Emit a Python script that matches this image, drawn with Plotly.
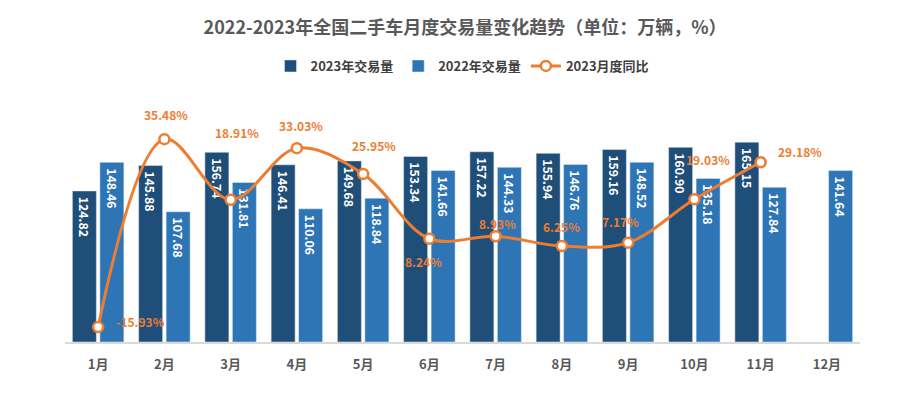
import plotly.graph_objects as go

months = ["1月", "2月", "3月", "4月", "5月", "6月", "7月", "8月", "9月", "10月", "11月", "12月"]
vol_2023 = [124.82, 145.88, 156.74, 146.41, 149.68, 153.34, 157.22, 155.94, 159.16, 160.90, 165.15, None]
vol_2022 = [148.46, 107.68, 131.81, 110.06, 118.84, 141.66, 144.33, 146.76, 148.52, 135.18, 127.84, 141.64]
yoy_2023 = [-15.93, 35.48, 18.91, 33.03, 25.95, 8.24, 8.93, 6.25, 7.17, 19.03, 29.18, None]

# label offsets (pixels) for the YoY labels
lbl_dx = [42, 2, 6, 4, 11, -6, 2, 0, -8, 14, 39]
lbl_dy = [6, 25, 67, 23, 29, -23, 13, 20, 21, 40, 11]

FONT = "Noto Sans CJK SC"
C23 = "#1F4E79"
C22 = "#2E75B6"
CORG = "#ED7D31"
GRAY = "#595959"

# page body has an 8px default margin; compensate
OFF = 8
W, H = 922 - OFF, 398 - OFF

fig = go.Figure()
fig.add_trace(go.Bar(
    x=months, y=vol_2023, name="<b>2023年交易量</b>", marker_color=C23,
    texttemplate="<b>\u00a0%{y:.2f}</b>", textposition="inside", textangle=90,
    insidetextanchor="end", textfont=dict(color="white", size=13, family=FONT),
))
fig.add_trace(go.Bar(
    x=months, y=vol_2022, name="<b>2022年交易量</b>", marker_color=C22,
    texttemplate="<b>\u00a0%{y:.2f}</b>", textposition="inside", textangle=90,
    insidetextanchor="end", textfont=dict(color="white", size=13, family=FONT),
))
fig.add_trace(go.Scatter(
    x=months, y=yoy_2023, name="<b>2023月度同比</b>", yaxis="y2", mode="lines+markers",
    line=dict(color=CORG, width=3, shape="spline", smoothing=1.0),
    marker=dict(size=10, color="white", line=dict(color=CORG, width=2.5)),
    cliponaxis=False,
))

annotations = []
for i, v in enumerate(yoy_2023):
    if v is None:
        continue
    annotations.append(dict(
        x=months[i], y=v, xref="x", yref="y2", text=f"<b>{v:.2f}%</b>",
        showarrow=False, xshift=lbl_dx[i], yshift=lbl_dy[i],
        font=dict(color=CORG, size=12, family=FONT),
    ))

fig.update_layout(
    width=W, height=H, autosize=False,
    margin=dict(l=65 - OFF, r=62, t=100 - OFF, b=56),
    paper_bgcolor="white", plot_bgcolor="white",
    font=dict(family=FONT, color=GRAY),
    title=dict(text="<b>2022-2023年全国二手车月度交易量变化趋势（单位：万辆，%）</b>",
               x=0.5, xanchor="center", y=1 - (28 - OFF) / H, yanchor="middle", yref="container",
               font=dict(size=18, color=GRAY, family=FONT)),
    legend=dict(orientation="h", x=0.5, xanchor="center", y=(342 - 66) / 242, yanchor="middle",
                font=dict(size=13, color="#404040", family=FONT), traceorder="normal",
                itemwidth=30),
    barmode="group", bargap=0.17, bargroupgap=0.127,
    xaxis=dict(showline=True, linecolor="#d9d9d9", linewidth=1.5, ticks="", showgrid=False,
               range=[-0.5, 11.5], autorange=False,
               tickfont=dict(size=13, color=GRAY, family=FONT), ticklabelstandoff=10),
    yaxis=dict(range=[0, 200], visible=False, showgrid=False),
    yaxis2=dict(range=[-20, 46.2], overlaying="y", side="right", visible=False, showgrid=False),
    annotations=annotations,
    showlegend=True,
)
fig.update_xaxes(tickprefix="<b>", ticksuffix="</b>")

fig.write_html("out.html")
